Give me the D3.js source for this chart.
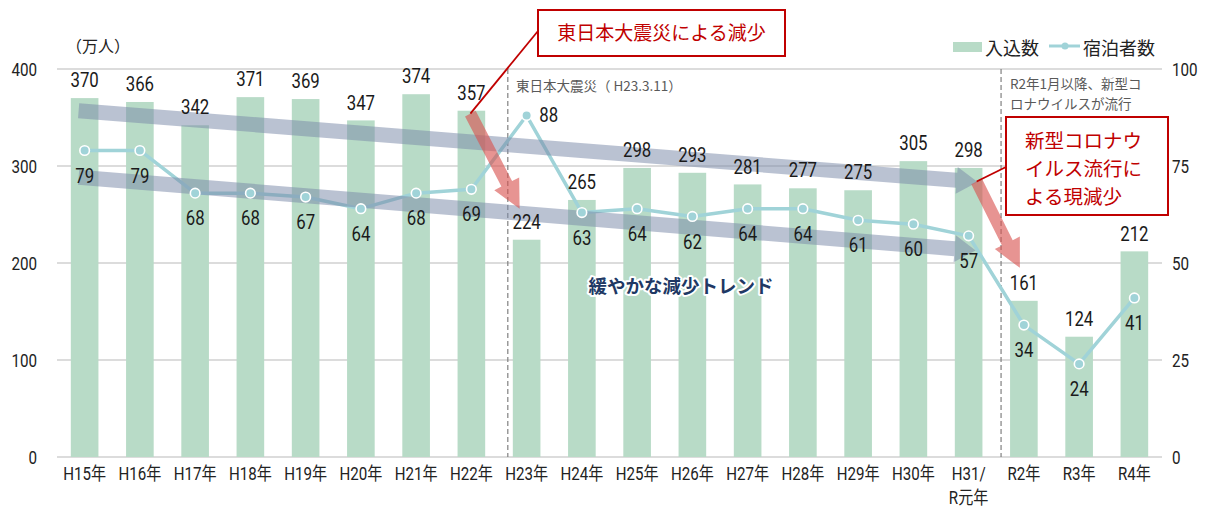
<!DOCTYPE html>
<html><head><meta charset="utf-8">
<script src="https://cdn.jsdelivr.net/npm/d3@7"></script>
<style>
body{margin:0;background:#fff;}
svg{display:block;}
.num{font-family:Roboto,"Noto Sans CJK JP",sans-serif;}
.jp{font-family:"Noto Sans CJK JP","Noto Sans",sans-serif;}
</style>
</head><body>
<svg id="c" width="1210" height="512"></svg>
<script>
const categories = ["H15年","H16年","H17年","H18年","H19年","H20年","H21年","H22年","H23年","H24年","H25年","H26年","H27年","H28年","H29年","H30年","H31/\nR元年","R2年","R3年","R4年"];
const visitors = [370,366,342,371,369,347,374,357,224,265,298,293,281,277,275,305,298,161,124,212];
const lodgers = [79,79,68,68,67,64,68,69,88,63,64,62,64,64,61,60,57,34,24,41];
const leftTicks = [0,100,200,300,400];
const rightTicks = [0,25,50,75,100];

const svg = d3.select("#c");
const plotL = 57, plotR = 1162, plotT = 69, plotB = 457;
const x = d3.scaleBand().domain(categories).range([plotL, plotR]).paddingInner(0.5).paddingOuter(0.25);
const yL = d3.scaleLinear().domain([0,400]).range([plotB, plotT]);
const yR = d3.scaleLinear().domain([0,100]).range([plotB, plotT]);
const cx = c => x(c) + x.bandwidth()/2;

// condensed text helper
function ctext(g, tx, ty, str, size, anchor, sx, fill){
  return g.append("text").attr("class","num")
    .attr("transform", `translate(${tx},${ty}) scale(${sx},1)`)
    .attr("text-anchor", anchor).attr("dominant-baseline","central")
    .style("font-size", size+"px").attr("fill", fill || "#1a1a1a").text(str);
}

// gridlines
svg.append("g").selectAll("line").data(leftTicks).join("line")
  .attr("x1", plotL).attr("x2", plotR)
  .attr("y1", d => yL(d)).attr("y2", d => yL(d))
  .attr("stroke", "#d0d0d0").attr("stroke-width", 1.3);

// axis labels
const axG = svg.append("g");
leftTicks.forEach(t => ctext(axG, plotL-20, yL(t), t, 19, "end", 0.8, "#222"));
rightTicks.forEach(t => ctext(axG, plotR+10, yR(t), t, 19, "start", 0.8, "#222"));

// bars
svg.append("g").selectAll("rect").data(visitors).join("rect")
  .attr("x", (d,i) => x(categories[i]))
  .attr("y", d => yL(d))
  .attr("width", x.bandwidth())
  .attr("height", d => plotB - yL(d))
  .attr("fill", "#b8dbc7");

// dashed event lines
[["H23年",-5],["R2年",-9]].forEach(([c,off]) => {
  svg.append("line").attr("x1", x(c)+off).attr("x2", x(c)+off)
    .attr("y1", plotT).attr("y2", plotB)
    .attr("stroke", "#808080").attr("stroke-width", 1.2).attr("stroke-dasharray", "5,3");
});

// x labels
const xl = svg.append("g");
categories.forEach(c => {
  c.split("\n").forEach((ln,k) => ctext(xl, cx(c), 474 + k*24, ln, 18, "middle", 0.84, "#222"));
});

// line
const line = d3.line().x((d,i) => cx(categories[i])).y(d => yR(d));
svg.append("path").datum(lodgers).attr("d", line)
  .attr("fill","none").attr("stroke","#a0d3d8").attr("stroke-width",3.5).attr("stroke-linejoin","round");

// arrows (annotation shapes)
function arrowPath(x1,y1,x2,y2,sw,hw,hl){
  const dx=x2-x1, dy=y2-y1, L=Math.hypot(dx,dy), ux=dx/L, uy=dy/L, nx=-uy, ny=ux;
  const bx=x2-ux*hl, by=y2-uy*hl;
  const p=[[x1+nx*sw/2,y1+ny*sw/2],[bx+nx*sw/2,by+ny*sw/2],[bx+nx*hw/2,by+ny*hw/2],[x2,y2],
           [bx-nx*hw/2,by-ny*hw/2],[bx-nx*sw/2,by-ny*sw/2],[x1-nx*sw/2,y1-ny*sw/2]];
  return "M"+p.map(q=>q.join(",")).join("L")+"Z";
}
const gray = svg.append("g").attr("fill","#7b8aa8").attr("fill-opacity",0.52);
gray.append("path").attr("d", arrowPath(cx("H15年")-6, yL(357), cx("H31/\nR元年")+9, yL(283.5), 15, 27, 21));
gray.append("path").attr("d", arrowPath(cx("H15年")-6, yL(288.5), cx("H31/\nR元年")+7, yL(213), 15, 27, 21));

// markers
svg.append("g").selectAll("circle").data(lodgers).join("circle")
  .attr("cx",(d,i)=>cx(categories[i])).attr("cy", d=>yR(d)).attr("r",4.8)
  .attr("fill","#a0d3d8").attr("stroke","#fff").attr("stroke-width",1.6);

// bar labels
const bl = svg.append("g");
visitors.forEach((d,i) => ctext(bl, cx(categories[i]), yL(d)-18, d, 21, "middle", 0.8));

// line labels
const ll = svg.append("g");
lodgers.forEach((d,i) => {
  if (i === 8) ctext(ll, cx(categories[i])+22, yR(d)-1, d, 21, "middle", 0.8);
  else ctext(ll, cx(categories[i]), yR(d)+25, d, 21, "middle", 0.8);
});

// red arrows
const red = svg.append("g").attr("fill","#d9534f").attr("fill-opacity",0.62);
red.append("path").attr("d", arrowPath(cx("H22年")-1, yL(354), cx("H23年")-7, yL(256), 12, 28, 28));
red.append("path").attr("d", arrowPath(cx("H31/\nR元年")+8, yL(284), cx("R2年")-4, yL(195), 12, 28, 28));

// callouts
function callout(bx,by,bw,bh,lines,fs,lh,anchor,lx1,ly1,lx2,ly2){
  svg.append("line").attr("x1",lx1).attr("y1",ly1).attr("x2",lx2).attr("y2",ly2)
    .attr("stroke","#c00000").attr("stroke-width",1.8);
  svg.append("rect").attr("x",bx).attr("y",by).attr("width",bw).attr("height",bh)
    .attr("fill","#fff").attr("stroke","#c00000").attr("stroke-width",2);
  const tx = anchor==="middle"? bx+bw/2 : bx+19;
  const t = svg.append("text").attr("class","jp").attr("x", tx)
    .attr("y", by + (anchor==="middle"? bh/2+7 : 31))
    .attr("text-anchor",anchor).style("font-size",fs+"px").attr("fill","#c00000");
  lines.forEach((s,k)=> t.append("tspan").attr("x",tx).attr("dy", k===0?0:lh).text(s));
}
callout(538,10,247,46,["東日本大震災による減少"],19,0,"middle", 538,31, cx("H22年")-1, yL(354));
callout(1006,117,162,98,["新型コロナウ","イルス流行に","よる現減少"],19.5,28,"start", 1006,167, cx("H31/\nR元年")+8, yL(284));

// event annotations
svg.append("text").attr("class","jp").attr("x",516).attr("y",85).attr("dominant-baseline","central")
  .style("font-size","13.5px").attr("fill","#595959").text("東日本大震災（ H23.3.11）");
const ev2 = svg.append("text").attr("class","jp").attr("x",1010).attr("y",89)
  .style("font-size","13.5px").attr("fill","#595959");
["R2年1月以降、新型コ","ロナウイルスが流行"].forEach((s,k)=> ev2.append("tspan").attr("x",1010).attr("dy",k===0?0:20).text(s));

// trend label
svg.append("text").attr("class","jp").attr("x",681).attr("y",285).attr("text-anchor","middle")
  .attr("dominant-baseline","central").style("font-size","18.5px").style("font-weight","bold")
  .attr("fill","#203864").attr("stroke","#fff").attr("stroke-width",4).attr("paint-order","stroke")
  .attr("stroke-linejoin","round").text("緩やかな減少トレンド");

// unit
svg.append("text").attr("class","jp").attr("x",66).attr("y",45).attr("dominant-baseline","central")
  .style("font-size","16px").attr("fill","#222").text("（万人）");

// legend
svg.append("rect").attr("x",953).attr("y",42).attr("width",29).attr("height",10).attr("fill","#b8dbc7");
svg.append("text").attr("class","jp").attr("x",985).attr("y",47).attr("dominant-baseline","central")
  .style("font-size","18px").attr("fill","#222").text("入込数");
svg.append("line").attr("x1",1049).attr("x2",1080).attr("y1",46).attr("y2",46)
  .attr("stroke","#a0d3d8").attr("stroke-width",3);
svg.append("circle").attr("cx",1065).attr("cy",46).attr("r",3.5).attr("fill","#a0d3d8");
svg.append("text").attr("class","jp").attr("x",1083).attr("y",47).attr("dominant-baseline","central")
  .style("font-size","18px").attr("fill","#222").text("宿泊者数");
</script>
</body></html>
